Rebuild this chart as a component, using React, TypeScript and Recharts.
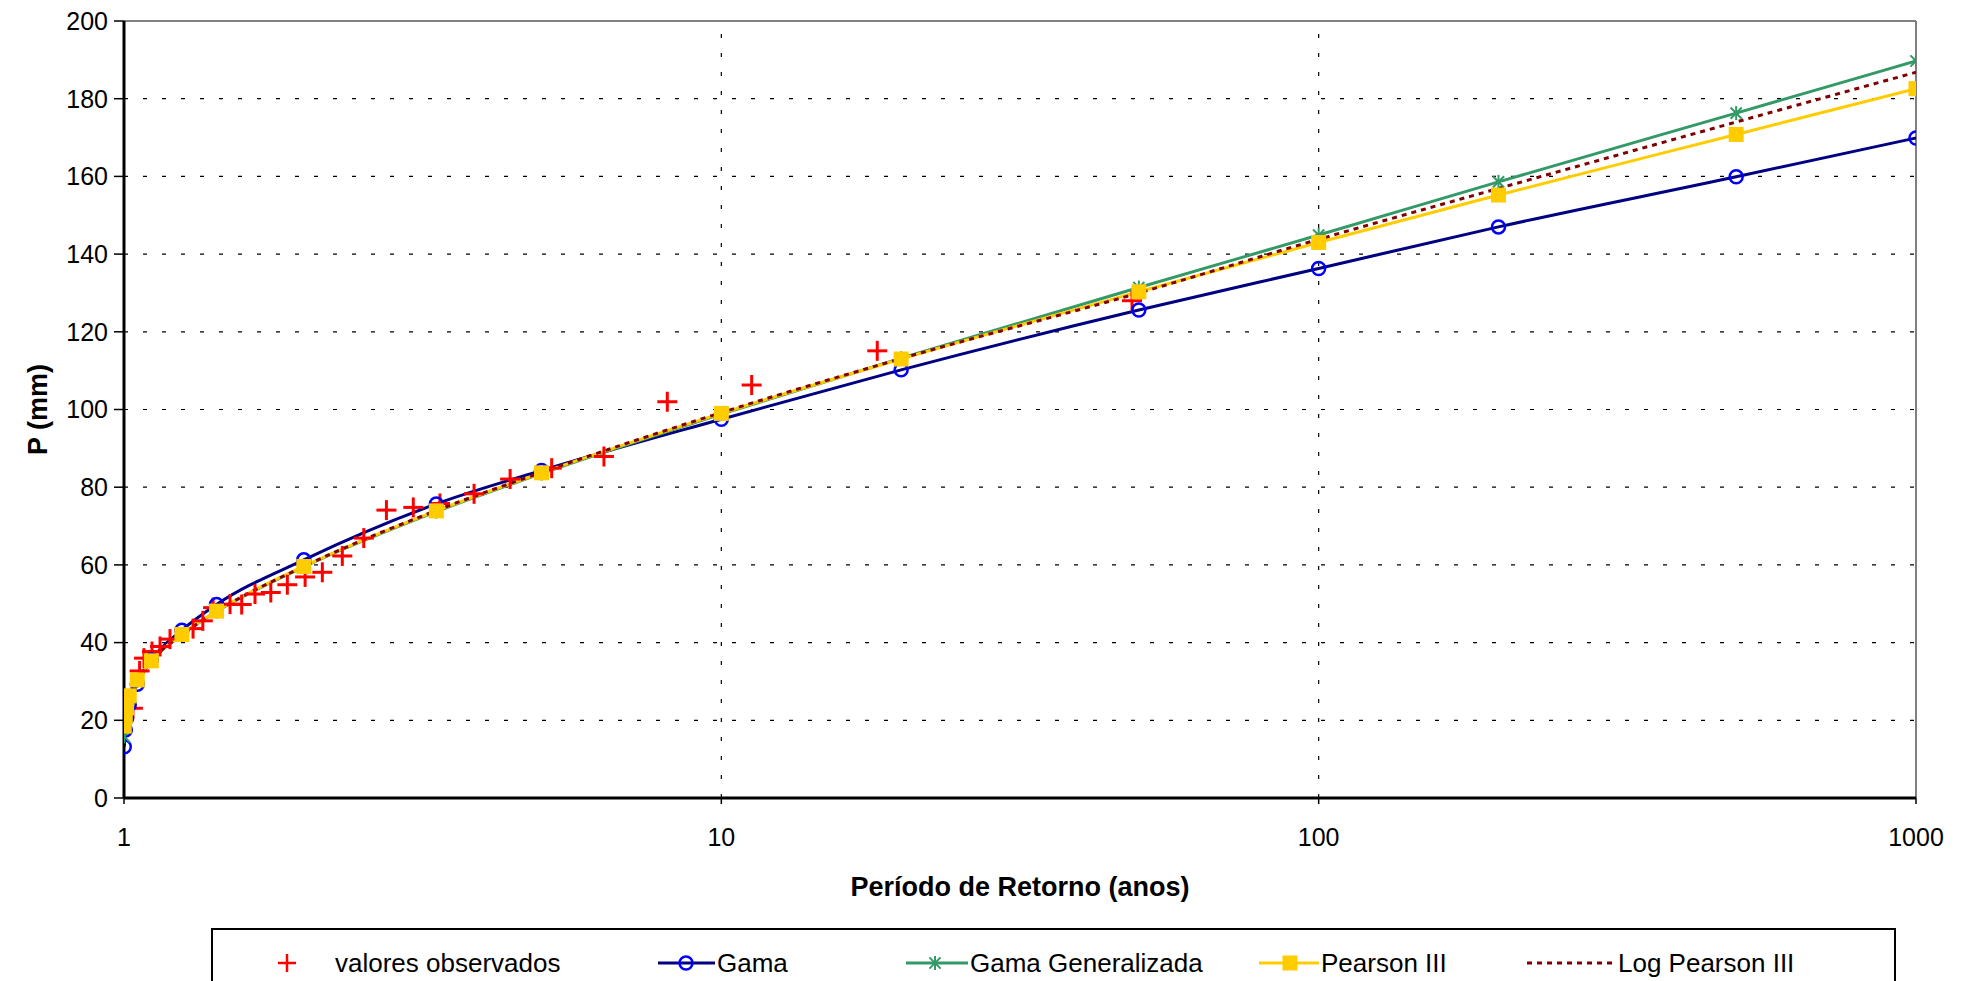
import React from 'react';
import {
  ComposedChart,
  Line,
  Scatter,
  XAxis,
  YAxis,
  CartesianGrid,
  ReferenceLine,
} from 'recharts';

// Return periods (years) at which the fitted distributions are evaluated
const returnPeriods = [
  1.001, 1.005, 1.0101, 1.0204, 1.0526, 1.1111, 1.25, 1.4286, 2, 3.3333, 5, 10,
  20, 50, 100, 200, 500, 1000,
];

// Fitted precipitation (mm) for each distribution
const gamaValues = [
  13.2, 17.5, 20.5, 24.0, 29.3, 35.5, 43.2, 49.8, 61.3, 75.7, 84.3, 97.5, 110.2,
  125.6, 136.3, 147.0, 159.9, 169.9,
];
const gamaGeneralizadaValues = [
  15.8, 19.5, 22.0, 25.5, 30.2, 35.3, 42.0, 48.0, 59.5, 73.7, 83.5, 98.8, 113.2,
  131.4, 144.9, 158.6, 176.3, 189.7,
];
const pearson3Values = [
  18.5, 21.0, 23.2, 26.3, 30.4, 35.3, 42.1, 48.1, 59.6, 73.9, 83.7, 99.0, 113.0,
  130.3, 143.0, 155.2, 170.8, 182.6,
];
const logPearson3Values = [
  17.5, 20.5, 23.0, 26.0, 30.3, 35.3, 42.0, 48.0, 59.6, 74.0, 83.8, 99.2, 113.1,
  130.0, 143.8, 156.9, 174.0, 186.8,
];

// Observed annual maxima with their empirical return periods
const observedPeriods = [
  48.7, 18.24, 11.24, 8.12, 6.36, 5.2, 4.43, 3.855, 3.38, 3.05, 2.75, 2.52, 2.32,
  2.148, 2.01, 1.877, 1.761, 1.657, 1.574, 1.505, 1.41, 1.355, 1.305, 1.194,
  1.149, 1.114, 1.08, 1.062, 1.035,
];
const observedValues = [
  128.0, 115.1, 106.3, 102.0, 87.9, 84.9, 82.1, 78.3, 75.8, 74.8, 74.1, 66.9,
  62.3, 58.1, 56.9, 54.9, 52.9, 52.5, 49.8, 49.9, 49.0, 45.6, 43.6, 40.9, 39.0,
  37.7, 36.0, 32.7, 23.1,
];

const xTicks = [1, 10, 100, 1000];
const yTicks = [0, 20, 40, 60, 80, 100, 120, 140, 160, 180, 200];

const FONT = '"Liberation Sans", Arial, sans-serif';

const RED = '#FF0000';
const NAVY = '#000080';
const BLUE = '#0000FF';
const GREEN = '#339966';
const YELLOW = '#FFCC00';
const MAROON = '#800000';

const toSeries = (values: number[]) =>
  returnPeriods.map((t, i) => ({ t, p: values[i] }));

const gamaData = toSeries(gamaValues);
const gamaGenData = toSeries(gamaGeneralizadaValues);
const pearsonData = toSeries(pearson3Values);
const logPearsonData = toSeries(logPearson3Values);
const observedData = observedPeriods.map((t, i) => ({ t, p: observedValues[i] }));

// Marker shapes
const PlusShape = ({ cx, cy, size = 10, sw = 3 }: any) => (
  <g>
    <line x1={cx - size} y1={cy} x2={cx + size} y2={cy} stroke={RED} strokeWidth={sw} />
    <line x1={cx} y1={cy - size} x2={cx} y2={cy + size} stroke={RED} strokeWidth={sw} />
  </g>
);

const CircleShape = ({ cx, cy }: any) => (
  <circle cx={cx} cy={cy} r={6.5} fill="none" stroke={BLUE} strokeWidth={2.5} />
);

const StarShape = ({ cx, cy, s = 7 }: any) => (
  <g stroke={GREEN} strokeWidth={2}>
    <line x1={cx} y1={cy - s} x2={cx} y2={cy + s} />
    <line x1={cx - s * 0.8} y1={cy - s * 0.8} x2={cx + s * 0.8} y2={cy + s * 0.8} />
    <line x1={cx - s * 0.8} y1={cy + s * 0.8} x2={cx + s * 0.8} y2={cy - s * 0.8} />
  </g>
);

const SquareShape = ({ cx, cy, s = 15 }: any) => (
  <rect x={cx - s / 2} y={cy - s / 2} width={s} height={s} fill={YELLOW} />
);

const dotRenderer = (Shape: any, prefix: string) => (props: any) => {
  const { cx, cy, index } = props;
  if (cx == null || cy == null) return <g key={`${prefix}-${index}`} />;
  return (
    <g key={`${prefix}-${index}`}>
      <Shape cx={cx} cy={cy} />
    </g>
  );
};

const XTitle = (props: any) => {
  const vb = props.viewBox || {};
  const x = vb.x + vb.width / 2;
  const y = vb.y + 89;
  return (
    <text
      x={x}
      y={y}
      textAnchor="middle"
      dominantBaseline="central"
      fontFamily={FONT}
      fontWeight="bold"
      fontSize={27}
      fill="#000"
    >
      Período de Retorno (anos)
    </text>
  );
};

const YTitle = (props: any) => {
  const vb = props.viewBox || {};
  const x = vb.x + 38;
  const y = vb.y + vb.height / 2;
  return (
    <text
      x={x}
      y={y}
      transform={`rotate(-90 ${x} ${y})`}
      textAnchor="middle"
      dominantBaseline="central"
      fontFamily={FONT}
      fontWeight="bold"
      fontSize={27}
      fill="#000"
    >
      P (mm)
    </text>
  );
};

const legendText: React.CSSProperties = {
  position: 'absolute',
  top: 0,
  height: 66,
  lineHeight: '66px',
  fontFamily: FONT,
  fontSize: 26,
  color: '#000',
  whiteSpace: 'nowrap',
};

const LegendBox = () => (
  <div
    style={{
      position: 'absolute',
      left: 211,
      top: 928,
      width: 1685,
      height: 80,
      border: '2px solid #000',
      boxSizing: 'border-box',
      background: '#fff',
    }}
  >
    <svg
      width={1681}
      height={66}
      style={{ position: 'absolute', left: 0, top: 0 }}
    >
      <PlusShape cx={74} cy={33} size={9} sw={2.5} />
      <line x1={445} y1={33} x2={502} y2={33} stroke={NAVY} strokeWidth={3} />
      <CircleShape cx={473} cy={33} />
      <line x1={693} y1={33} x2={755} y2={33} stroke={GREEN} strokeWidth={3} />
      <StarShape cx={722} cy={33} />
      <line x1={1046} y1={33} x2={1106} y2={33} stroke={YELLOW} strokeWidth={3} />
      <SquareShape cx={1077} cy={33} />
      <line
        x1={1314}
        y1={33}
        x2={1403}
        y2={33}
        stroke={MAROON}
        strokeWidth={3}
        strokeDasharray="5 5"
      />
    </svg>
    <span style={{ ...legendText, left: 122 }}>valores observados</span>
    <span style={{ ...legendText, left: 504 }}>Gama</span>
    <span style={{ ...legendText, left: 757 }}>Gama Generalizada</span>
    <span style={{ ...legendText, left: 1108 }}>Pearson III</span>
    <span style={{ ...legendText, left: 1405 }}>Log Pearson III</span>
  </div>
);

export default function App() {
  return (
    <div
      style={{
        position: 'absolute',
        left: 0,
        top: 0,
        width: 1968,
        height: 981,
        overflow: 'hidden',
        background: '#fff',
      }}
    >
      <ComposedChart
        width={1968}
        height={981}
        margin={{ top: 21, right: 52, bottom: 103, left: 0 }}
      >
        <CartesianGrid
          vertical={false}
          stroke="#000"
          strokeWidth={1.2}
          strokeDasharray="4 15"
        />
        <XAxis
          dataKey="t"
          type="number"
          scale="log"
          domain={[1, 1000]}
          ticks={xTicks}
          allowDataOverflow
          height={80}
          tickSize={6}
          tickMargin={24}
          axisLine={{ stroke: '#000', strokeWidth: 3 }}
          tickLine={{ stroke: '#000', strokeWidth: 1.5 }}
          tick={{ fontSize: 25, fill: '#000', fontFamily: FONT }}
          label={{ content: XTitle }}
        />
        <YAxis
          dataKey="p"
          type="number"
          domain={[0, 200]}
          ticks={yTicks}
          width={124}
          tickSize={10}
          tickMargin={6}
          axisLine={{ stroke: '#000', strokeWidth: 3 }}
          tickLine={{ stroke: '#000', strokeWidth: 1.5 }}
          tick={{ fontSize: 25, fill: '#000', fontFamily: FONT }}
          label={{ content: YTitle }}
        />
        <ReferenceLine x={10} stroke="#000" strokeWidth={1.2} strokeDasharray="4 15" />
        <ReferenceLine x={100} stroke="#000" strokeWidth={1.2} strokeDasharray="4 15" />
        <ReferenceLine y={200} stroke="#808080" strokeWidth={2} />
        <ReferenceLine x={1000} stroke="#808080" strokeWidth={2} />

        <Scatter
          data={observedData}
          dataKey="p"
          isAnimationActive={false}
          shape={(props: any) => <PlusShape cx={props.cx} cy={props.cy} />}
        />
        <Line
          data={gamaData}
          dataKey="p"
          type="monotone"
          stroke={NAVY}
          strokeWidth={3}
          dot={dotRenderer(CircleShape, 'gama')}
          activeDot={false}
          isAnimationActive={false}
        />
        <Line
          data={gamaGenData}
          dataKey="p"
          type="monotone"
          stroke={GREEN}
          strokeWidth={3}
          dot={dotRenderer(StarShape, 'gg')}
          activeDot={false}
          isAnimationActive={false}
        />
        <Line
          data={pearsonData}
          dataKey="p"
          type="monotone"
          stroke={YELLOW}
          strokeWidth={3}
          dot={dotRenderer(SquareShape, 'p3')}
          activeDot={false}
          isAnimationActive={false}
        />
        <Line
          data={logPearsonData}
          dataKey="p"
          type="monotone"
          stroke={MAROON}
          strokeWidth={3}
          strokeDasharray="5 5"
          dot={false}
          activeDot={false}
          isAnimationActive={false}
        />
      </ComposedChart>
      <LegendBox />
    </div>
  );
}
